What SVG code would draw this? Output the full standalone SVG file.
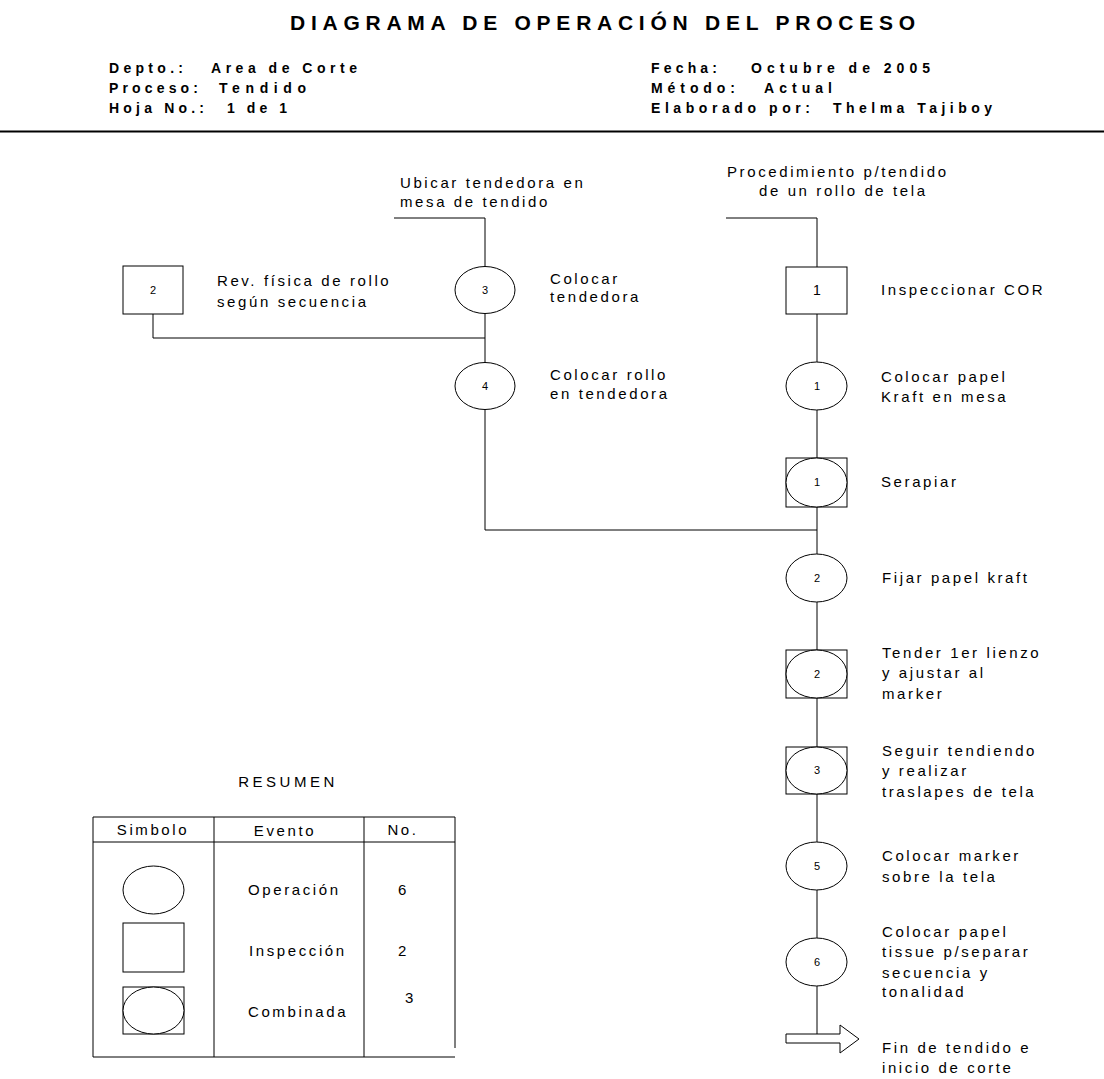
<svg xmlns="http://www.w3.org/2000/svg" width="1104" height="1079" viewBox="0 0 1104 1079">
  <style>
    .title { font-family: "Liberation Sans", Arial, sans-serif; font-weight: bold; font-size: 21px; fill: #000; }
    .hdr { font-family: "Liberation Sans", Arial, sans-serif; font-weight: bold; font-size: 14px; fill: #000; }
    .lbl { font-family: "Liberation Sans", Arial, sans-serif; font-size: 15px; letter-spacing: 2.6px; fill: #000; }
    .num { font-family: "Liberation Sans", Arial, sans-serif; font-size: 11px; fill: #000; }
    .shape { fill: #fff; stroke: #000; stroke-width: 1; }
    .wire { fill: none; stroke: #000; stroke-width: 1; }
  </style>

  <!-- Header -->
  <g id="header">
    <text class="title" x="290" y="30" textLength="625" lengthAdjust="spacing">DIAGRAMA DE OPERACIÓN DEL PROCESO</text>
    <text class="hdr" x="109" y="73" textLength="74" lengthAdjust="spacing">Depto.:</text>
    <text class="hdr" x="211" y="73" textLength="146" lengthAdjust="spacing">Area de Corte</text>
    <text class="hdr" x="109" y="93" textLength="89" lengthAdjust="spacing">Proceso:</text>
    <text class="hdr" x="219" y="93" textLength="87" lengthAdjust="spacing">Tendido</text>
    <text class="hdr" x="109" y="113" textLength="95" lengthAdjust="spacing">Hoja No.:</text>
    <text class="hdr" x="227" y="113" textLength="60" lengthAdjust="spacing">1 de 1</text>
    <text class="hdr" x="651" y="73" textLength="66" lengthAdjust="spacing">Fecha:</text>
    <text class="hdr" x="751" y="73" textLength="179" lengthAdjust="spacing">Octubre de 2005</text>
    <text class="hdr" x="651" y="93" textLength="84" lengthAdjust="spacing">Método:</text>
    <text class="hdr" x="764" y="93" textLength="68" lengthAdjust="spacing">Actual</text>
    <text class="hdr" x="651" y="113" textLength="159" lengthAdjust="spacing">Elaborado por:</text>
    <text class="hdr" x="833" y="113" textLength="159" lengthAdjust="spacing">Thelma Tajiboy</text>
    <line x1="0" y1="131.5" x2="1104" y2="131.5" stroke="#000" stroke-width="2"/>
  </g>

  <!-- Connectors -->
  <g id="connectors" class="wire">
    <polyline points="726,218 817,218 817,1034"/>
    <polyline points="394,218 485,218 485,530 817,530"/>
    <polyline points="153,314 153,338 485,338"/>
  </g>

  <!-- Left branch -->
  <g id="start-ubicar">
    <text class="lbl" x="400" y="188">Ubicar tendedora en</text>
    <text class="lbl" x="400" y="207">mesa de tendido</text>
  </g>
  <g id="inspeccion-2">
    <rect class="shape" x="123" y="266" width="60" height="48"/>
    <text class="num" x="153" y="294" text-anchor="middle">2</text>
    <text class="lbl" x="217" y="286">Rev. física de rollo</text>
    <text class="lbl" x="217" y="307">según secuencia</text>
  </g>
  <g id="operacion-3">
    <ellipse class="shape" cx="485" cy="290" rx="30" ry="23.5"/>
    <text class="num" x="485" y="294" text-anchor="middle">3</text>
    <text class="lbl" x="550" y="284">Colocar</text>
    <text class="lbl" x="550" y="302">tendedora</text>
  </g>
  <g id="operacion-4">
    <ellipse class="shape" cx="485" cy="386" rx="30" ry="23.5"/>
    <text class="num" x="485" y="390" text-anchor="middle">4</text>
    <text class="lbl" x="550" y="380">Colocar rollo</text>
    <text class="lbl" x="550" y="399">en tendedora</text>
  </g>

  <!-- Main line -->
  <g id="start-procedimiento">
    <text class="lbl" x="727" y="177">Procedimiento p/tendido</text>
    <text class="lbl" x="759" y="196">de un rollo de tela</text>
  </g>
  <g id="inspeccion-1">
    <rect class="shape" x="786" y="267" width="61" height="47"/>
    <text class="num" x="817" y="295" text-anchor="middle" style="font-size:14px">1</text>
    <text class="lbl" x="881" y="295">Inspeccionar COR</text>
  </g>
  <g id="operacion-1">
    <ellipse class="shape" cx="816.5" cy="386" rx="30.5" ry="24"/>
    <text class="num" x="817" y="390" text-anchor="middle">1</text>
    <text class="lbl" x="881" y="382">Colocar papel</text>
    <text class="lbl" x="881" y="402">Kraft en mesa</text>
  </g>
  <g id="combinada-1">
    <rect class="shape" x="786" y="458" width="61" height="49"/>
    <ellipse class="shape" cx="816.5" cy="482.5" rx="30.5" ry="24.5"/>
    <text class="num" x="817" y="486" text-anchor="middle">1</text>
    <text class="lbl" x="881" y="487">Serapiar</text>
  </g>
  <g id="operacion-2">
    <ellipse class="shape" cx="816.5" cy="578" rx="30.5" ry="24"/>
    <text class="num" x="817" y="582" text-anchor="middle">2</text>
    <text class="lbl" x="882" y="583">Fijar papel kraft</text>
  </g>
  <g id="combinada-2">
    <rect class="shape" x="786" y="650" width="61" height="48"/>
    <ellipse class="shape" cx="816.5" cy="674" rx="30.5" ry="24"/>
    <text class="num" x="817" y="678" text-anchor="middle">2</text>
    <text class="lbl" x="882" y="658">Tender 1er lienzo</text>
    <text class="lbl" x="882" y="678">y ajustar al</text>
    <text class="lbl" x="882" y="699">marker</text>
  </g>
  <g id="combinada-3">
    <rect class="shape" x="786" y="747" width="61" height="47"/>
    <ellipse class="shape" cx="816.5" cy="770.5" rx="30.5" ry="23.5"/>
    <text class="num" x="817" y="774" text-anchor="middle">3</text>
    <text class="lbl" x="882" y="756">Seguir tendiendo</text>
    <text class="lbl" x="882" y="776">y realizar</text>
    <text class="lbl" x="882" y="797">traslapes de tela</text>
  </g>
  <g id="operacion-5">
    <ellipse class="shape" cx="816.5" cy="866" rx="30.5" ry="24"/>
    <text class="num" x="817" y="870" text-anchor="middle">5</text>
    <text class="lbl" x="882" y="861">Colocar marker</text>
    <text class="lbl" x="882" y="882">sobre la tela</text>
  </g>
  <g id="operacion-6">
    <ellipse class="shape" cx="816.5" cy="962" rx="30.5" ry="24"/>
    <text class="num" x="817" y="966" text-anchor="middle">6</text>
    <text class="lbl" x="882" y="937">Colocar papel</text>
    <text class="lbl" x="882" y="957">tissue p/separar</text>
    <text class="lbl" x="882" y="978">secuencia y</text>
    <text class="lbl" x="882" y="997">tonalidad</text>
  </g>
  <g id="fin">
    <polygon class="shape" points="786,1034 840,1034 840,1025 859,1039 840,1053 840,1043 786,1043"/>
    <text class="lbl" x="882" y="1053">Fin de tendido e</text>
    <text class="lbl" x="882" y="1073">inicio de corte</text>
  </g>

  <!-- Summary table -->
  <g id="resumen">
    <text class="lbl" x="288" y="787" text-anchor="middle" style="letter-spacing:3.5px">RESUMEN</text>
    <polyline class="wire" points="455,1048 455,817 93,817 93,1057 455,1057"/>
    <line class="wire" x1="93" y1="842" x2="455" y2="842"/>
    <line class="wire" x1="214" y1="817" x2="214" y2="1057"/>
    <line class="wire" x1="364" y1="817" x2="364" y2="1057"/>
    <text class="lbl" x="153" y="835" text-anchor="middle">Simbolo</text>
    <text class="lbl" x="285" y="836" text-anchor="middle">Evento</text>
    <text class="lbl" x="403" y="835" text-anchor="middle">No.</text>
    <ellipse class="shape" cx="153.5" cy="890" rx="30.5" ry="24"/>
    <rect class="shape" x="123" y="923" width="61" height="49"/>
    <rect class="shape" x="123" y="987" width="61" height="47"/>
    <ellipse class="shape" cx="153.5" cy="1010.5" rx="30.5" ry="23.5"/>
    <text class="lbl" x="248" y="895">Operación</text>
    <text class="lbl" x="398" y="895">6</text>
    <text class="lbl" x="249" y="956">Inspección</text>
    <text class="lbl" x="398" y="956">2</text>
    <text class="lbl" x="248" y="1017">Combinada</text>
    <text class="lbl" x="405" y="1003">3</text>
  </g>
</svg>
